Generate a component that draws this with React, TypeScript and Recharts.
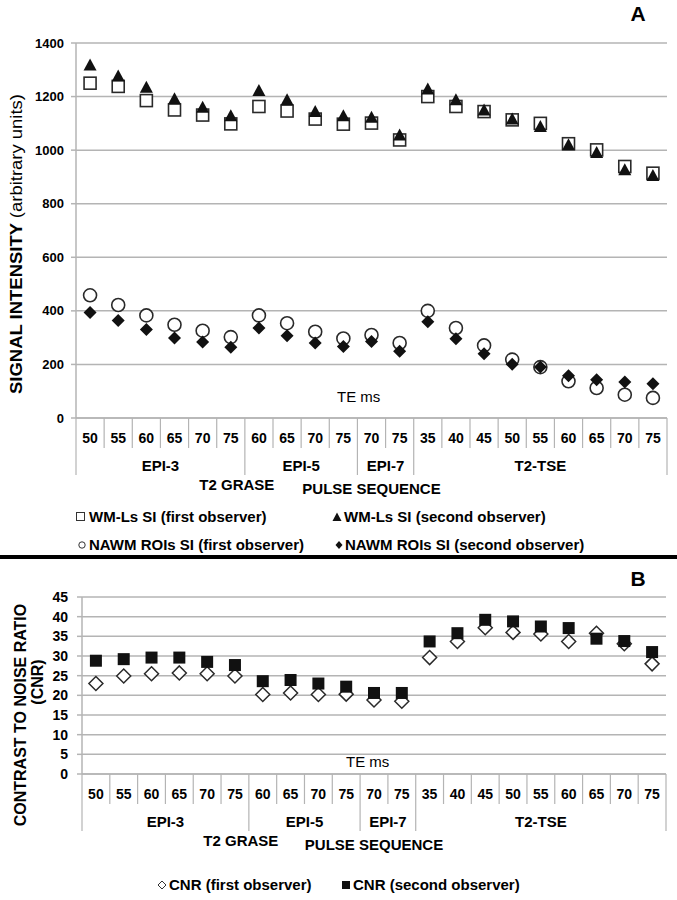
import React from "react";
import {
  ComposedChart,
  Line,
  XAxis,
  YAxis,
  CartesianGrid,
  Legend,
  Customized,
} from "recharts";

// TE (ms) of every acquisition and the pulse sequence it belongs to
const teLabels = ["50", "55", "60", "65", "70", "75", "60", "65", "70", "75", "70", "75", "35", "40", "45", "50", "55", "60", "65", "70", "75"];
const sequenceGroups = [
  "EPI-3", "EPI-3", "EPI-3", "EPI-3", "EPI-3", "EPI-3",
  "EPI-5", "EPI-5", "EPI-5", "EPI-5",
  "EPI-7", "EPI-7",
  "T2-TSE", "T2-TSE", "T2-TSE", "T2-TSE", "T2-TSE", "T2-TSE", "T2-TSE", "T2-TSE", "T2-TSE",
];
const graseGroups = ["EPI-3", "EPI-5", "EPI-7"];

// panel A: signal intensity
const wmFirst = [1250, 1238, 1185, 1150, 1131, 1098, 1163, 1146, 1116, 1097, 1101, 1038, 1200, 1163, 1144, 1113, 1100, 1024, 1001, 939, 914];
const wmSecond = [1318, 1277, 1235, 1192, 1160, 1128, 1223, 1188, 1144, 1128, 1123, 1057, 1228, 1188, 1150, 1116, 1088, 1020, 991, 927, 905];
const nawmFirst = [458, 422, 383, 348, 326, 302, 383, 354, 322, 297, 310, 280, 400, 336, 271, 218, 190, 137, 112, 87, 75];
const nawmSecond = [394, 364, 330, 299, 284, 264, 336, 307, 280, 267, 286, 249, 359, 296, 240, 201, 190, 158, 143, 134, 128];
const siTicks = [0, 200, 400, 600, 800, 1000, 1200, 1400];

// panel B: contrast to noise ratio
const cnrFirst = [23.0, 24.9, 25.5, 25.7, 25.5, 24.9, 20.2, 20.6, 20.2, 20.3, 18.8, 18.5, 29.6, 33.7, 37.2, 36.0, 35.6, 33.7, 35.8, 33.1, 28.0];
const cnrSecond = [28.8, 29.2, 29.6, 29.6, 28.5, 27.7, 23.6, 23.9, 23.0, 22.2, 20.6, 20.6, 33.7, 35.8, 39.2, 38.8, 37.5, 37.1, 34.4, 33.8, 31.0];
const cnrTicks = [0, 5, 10, 15, 20, 25, 30, 35, 40, 45];

const siData = teLabels.map((te, i) => ({
  id: i,
  te,
  wmFirst: wmFirst[i],
  wmSecond: wmSecond[i],
  nawmFirst: nawmFirst[i],
  nawmSecond: nawmSecond[i],
}));

const cnrData = teLabels.map((te, i) => ({
  id: i,
  te,
  cnrFirst: cnrFirst[i],
  cnrSecond: cnrSecond[i],
}));

const FONT = '"Liberation Sans", Arial, Helvetica, sans-serif';
const GRID = "#b4b4b4";
const INK = "#111";

// --- marker shapes ---
const HollowSquare = ({ cx, cy, s = 12 }: any) => (
  <rect x={cx - s / 2} y={cy - s / 2} width={s} height={s} fill="#fff" stroke="#2a2a2a" strokeWidth={1.6} />
);
const FilledSquare = ({ cx, cy, s = 12 }: any) => (
  <rect x={cx - s / 2} y={cy - s / 2} width={s} height={s} fill={INK} />
);
const Triangle = ({ cx, cy, s = 13 }: any) => (
  <polygon
    points={`${cx},${cy - s / 2} ${cx + s / 2},${cy + s / 2 - 1} ${cx - s / 2},${cy + s / 2 - 1}`}
    fill={INK}
  />
);
const HollowCircle = ({ cx, cy, r = 6.5 }: any) => (
  <circle cx={cx} cy={cy} r={r} fill="#fff" stroke="#2a2a2a" strokeWidth={1.6} />
);
const Diamond = ({ cx, cy, h = 6.5, hollow = false }: any) => (
  <polygon
    points={`${cx},${cy - h} ${cx + h},${cy} ${cx},${cy + h} ${cx - h},${cy}`}
    fill={hollow ? "#fff" : INK}
    stroke={hollow ? "#2a2a2a" : "none"}
    strokeWidth={1.5}
  />
);

const dotOf = (Shape: any, extra: any = {}) => (p: any) =>
  p.cx == null ? <g key={p.index} /> : <g key={p.index}><Shape cx={p.cx} cy={p.cy} {...extra} /></g>;

// --- multi level category tick: TE, pulse sequence, T2 GRASE, axis title ---
const SequenceTick = (props: any) => {
  const { x, y, width, payload } = props;
  const i = props.index ?? payload.index;
  const n = teLabels.length;
  const bw = width ? width / n : payload.offset ? payload.offset * 2 : 28;
  const left = x - bw / 2;
  const group = sequenceGroups[i];
  const newGroup = i === 0 || sequenceGroups[i - 1] !== group;
  let groupLen = 0;
  while (sequenceGroups[i + groupLen] === group) groupLen++;
  const graseLen = sequenceGroups.filter((g) => graseGroups.includes(g)).length;
  const txt = { fontFamily: FONT, fontWeight: "bold", fill: "#000", textAnchor: "middle" as const };
  return (
    <g>
      <line x1={left} x2={left} y1={y} y2={y + (newGroup ? 57 : 30)} stroke={GRID} strokeWidth={1.2} />
      {i === n - 1 && (
        <line x1={x + bw / 2} x2={x + bw / 2} y1={y} y2={y + 57} stroke={GRID} strokeWidth={1.2} />
      )}
      <text x={x} y={y + 20} dy="0.35em" fontSize={14} {...txt}>{teLabels[i]}</text>
      {newGroup && (
        <text x={left + (groupLen * bw) / 2} y={y + 48} dy="0.35em" fontSize={15} {...txt}>{group}</text>
      )}
      {i === 0 && (
        <>
          <text x={left + (graseLen * bw) / 2 - 8} y={y + 67} dy="0.35em" fontSize={15} {...txt}>T2 GRASE</text>
          <text x={left + (n * bw) / 2} y={y + 71} dy="0.35em" fontSize={15} {...txt}>PULSE SEQUENCE</text>
        </>
      )}
    </g>
  );
};

// --- legends ---
const legendText: React.CSSProperties = {
  position: "absolute",
  fontFamily: FONT,
  fontWeight: "bold",
  fontSize: 15,
  lineHeight: "18px",
  color: "#000",
  whiteSpace: "nowrap",
};

const LegendItem = ({ mx, tx, cy, marker, label }: any) => (
  <>
    <svg style={{ position: "absolute", left: mx - 6, top: cy - 6 }} width={12} height={12}>
      {marker}
    </svg>
    <span style={{ ...legendText, left: tx, top: cy - 9 }}>{label}</span>
  </>
);

const siSeries = [
  { key: "wmFirst", name: "WM-Ls SI (first observer)", marker: <rect x={1.5} y={1.5} width={8} height={8} fill="#fff" stroke="#333" strokeWidth={1} />, mx: 81, tx: 89, row: 22 },
  { key: "wmSecond", name: "WM-Ls SI (second observer)", marker: <polygon points="6,1.5 10.5,10 1.5,10" fill={INK} />, mx: 337, tx: 344, row: 22 },
  { key: "nawmFirst", name: "NAWM ROIs SI (first observer)", marker: <circle cx={6} cy={6} r={3.2} fill="#fff" stroke="#333" strokeWidth={1} />, mx: 82, tx: 89, row: 50 },
  { key: "nawmSecond", name: "NAWM ROIs SI (second observer)", marker: <polygon points="6,2 9.5,6 6,10 2.5,6" fill={INK} />, mx: 339, tx: 345, row: 50 },
];

const cnrSeries = [
  { key: "cnrFirst", name: "CNR (first observer)", marker: <polygon points="6,2 10,6 6,10 2,6" fill="#fff" stroke="#333" strokeWidth={1} />, mx: 162, tx: 169, row: 34 },
  { key: "cnrSecond", name: "CNR (second observer)", marker: <rect x={2} y={2} width={8} height={8} fill={INK} />, mx: 346, tx: 353, row: 34 },
];

const SiLegend = () => (
  <div style={{ position: "relative", width: 677, height: 56 }}>
    {siSeries.map((s) => (
      <LegendItem key={s.key} mx={s.mx} tx={s.tx} cy={s.row} marker={s.marker} label={s.name} />
    ))}
  </div>
);

const CnrLegend = () => (
  <div style={{ position: "relative", width: 677, height: 40 }}>
    {cnrSeries.map((s) => (
      <LegendItem key={s.key} mx={s.mx} tx={s.tx} cy={s.row} marker={s.marker} label={s.name} />
    ))}
  </div>
);

// --- fixed annotations (panel letters, axis titles, "TE ms") ---
const AnnotationsA = () => (
  <g fontFamily={FONT} fill="#000">
    <text x={638} y={14} dy="0.35em" textAnchor="middle" fontSize={21} fontWeight="bold">A</text>
    <text
      transform="translate(16,244) rotate(-90)"
      textAnchor="middle"
      dy="0.35em"
      fontSize={16}
      textLength={300}
      lengthAdjust="spacingAndGlyphs"
    >
      <tspan fontWeight="bold">SIGNAL INTENSITY </tspan>
      <tspan>(arbitrary units)</tspan>
    </text>
    <text x={337} y={397} dy="0.35em" fontSize={15}>TE ms</text>
  </g>
);

const AnnotationsB = () => (
  <g fontFamily={FONT} fill="#000" fontWeight="bold">
    <text x={638} y={19} dy="0.35em" textAnchor="middle" fontSize={21}>B</text>
    <text transform="translate(20,155) rotate(-90)" textAnchor="middle" dy="0.35em" fontSize={16}>
      CONTRAST TO NOISE RATIO
    </text>
    <text transform="translate(37,122) rotate(-90)" textAnchor="middle" dy="0.35em" fontSize={16}>
      (CNR)
    </text>
    <text x={346} y={202} dy="0.35em" fontSize={15} fontWeight="normal">TE ms</text>
  </g>
);

const yTick = (size: number) => ({ fontFamily: FONT, fontWeight: "bold" as const, fontSize: size, fill: "#000" });

export default function App() {
  return (
    <div style={{ position: "absolute", left: 0, top: 0, width: 677, height: 900, background: "#fff" }}>
      <div style={{ position: "absolute", left: 0, top: 0 }}>
        <ComposedChart width={677} height={556} data={siData} margin={{ top: 43, right: 10, left: 0, bottom: 5 }}>
          <CartesianGrid vertical={false} stroke={GRID} strokeWidth={1.5} />
          <XAxis
            dataKey="id"
            type="category"
            scale="band"
            interval={0}
            height={77}
            tickSize={0}
            tickMargin={0}
            tickLine={false}
            axisLine={{ stroke: GRID, strokeWidth: 1.5 }}
            tick={(p: any) => <SequenceTick {...p} />}
          />
          <YAxis
            domain={[0, 1400]}
            ticks={siTicks}
            interval={0}
            width={76}
            tickSize={5}
            tickMargin={7}
            tick={yTick(13)}
            tickLine={{ stroke: GRID, strokeWidth: 1.5 }}
            axisLine={{ stroke: GRID, strokeWidth: 1.5 }}
          />
          <Legend verticalAlign="bottom" content={() => <SiLegend />} wrapperStyle={{ left: 0, width: 677 }} />
          <Line dataKey="wmFirst" stroke="none" strokeWidth={0} isAnimationActive={false} activeDot={false} dot={dotOf(HollowSquare)} />
          <Line dataKey="wmSecond" stroke="none" strokeWidth={0} isAnimationActive={false} activeDot={false} dot={dotOf(Triangle)} />
          <Line dataKey="nawmFirst" stroke="none" strokeWidth={0} isAnimationActive={false} activeDot={false} dot={dotOf(HollowCircle)} />
          <Line dataKey="nawmSecond" stroke="none" strokeWidth={0} isAnimationActive={false} activeDot={false} dot={dotOf(Diamond)} />
          <Customized component={AnnotationsA} />
        </ComposedChart>
      </div>

      <div style={{ position: "absolute", left: 0, top: 555, width: 677, height: 4, background: "#000" }} />

      <div style={{ position: "absolute", left: 0, top: 560 }}>
        <ComposedChart width={677} height={340} data={cnrData} margin={{ top: 37, right: 11, left: 0, bottom: 9 }}>
          <CartesianGrid vertical={false} stroke={GRID} strokeWidth={1.5} />
          <XAxis
            dataKey="id"
            type="category"
            scale="band"
            interval={0}
            height={77}
            tickSize={0}
            tickMargin={0}
            tickLine={false}
            axisLine={{ stroke: GRID, strokeWidth: 1.5 }}
            tick={(p: any) => <SequenceTick {...p} />}
          />
          <YAxis
            domain={[0, 45]}
            ticks={cnrTicks}
            interval={0}
            width={82}
            tickSize={5}
            tickMargin={9}
            tick={yTick(14)}
            tickLine={{ stroke: GRID, strokeWidth: 1.5 }}
            axisLine={{ stroke: GRID, strokeWidth: 1.5 }}
          />
          <Legend verticalAlign="bottom" content={() => <CnrLegend />} wrapperStyle={{ left: 0, width: 677 }} />
          <Line dataKey="cnrFirst" stroke="none" strokeWidth={0} isAnimationActive={false} activeDot={false} dot={dotOf(Diamond, { h: 7, hollow: true })} />
          <Line dataKey="cnrSecond" stroke="none" strokeWidth={0} isAnimationActive={false} activeDot={false} dot={dotOf(FilledSquare)} />
          <Customized component={AnnotationsB} />
        </ComposedChart>
      </div>
    </div>
  );
}
